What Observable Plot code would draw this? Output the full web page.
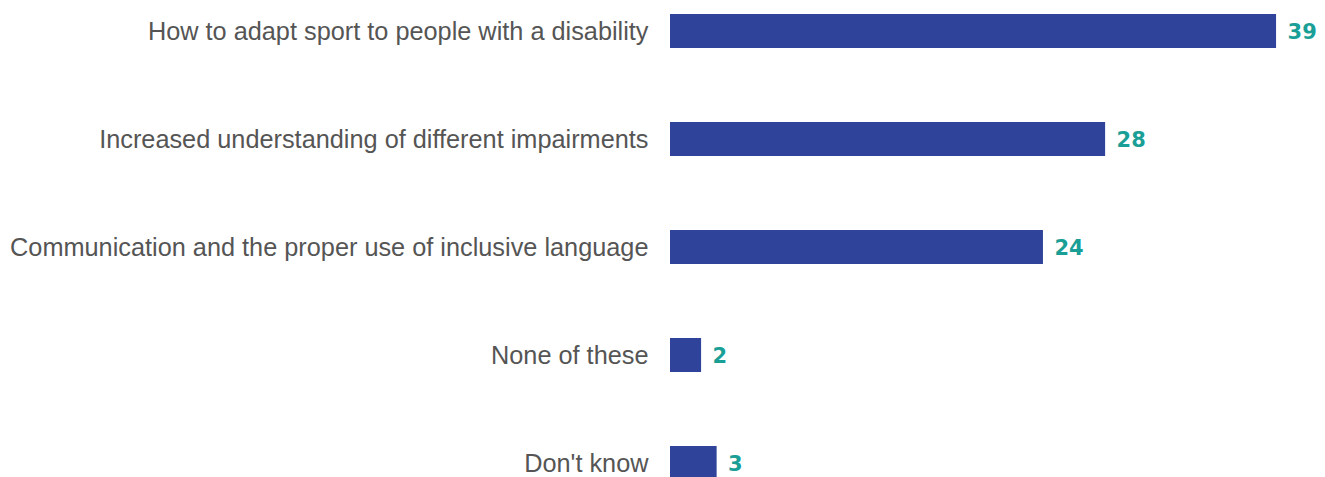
<!DOCTYPE html>
<html><head><meta charset="utf-8">
<script src="https://cdn.jsdelivr.net/npm/d3@7"></script>
<script src="https://cdn.jsdelivr.net/npm/@observablehq/plot@0.6"></script>
<style>body{margin:0;background:#fff;overflow:hidden}</style>
</head><body><div id="chart"></div>
<script>
const categories = [
  "How to adapt sport to people with a disability",
  "Increased understanding of different impairments",
  "Communication and the proper use of inclusive language",
  "None of these",
  "Don't know"
];
const values = [39, 28, 24, 2, 3];
const data = categories.map((c, i) => ({category: c, value: values[i]}));

const chart = Plot.plot({
  width: 1325,
  height: 477,
  marginLeft: 670,
  marginRight: 0,
  marginTop: 0,
  marginBottom: 0,
  style: {fontFamily: "Liberation Sans, Arial, sans-serif", background: "#fff", overflow: "visible"},
  x: {domain: [0, 42.15], axis: null},
  y: {domain: categories, range: [11.5, 481.5], paddingInner: 0.688, paddingOuter: 0, label: null},
  marks: [
    Plot.barX(data, {y: "category", x: "value", fill: "#2e4399"}),
    Plot.text(data, {y: "category", x: "value", text: d => String(d.value), textAnchor: "start", dx: 11, dy: 1, fill: "#1a9f97", fontWeight: "bold", fontSize: 21, fontFamily: "DejaVu Sans"}),
    Plot.axisY({tickSize: 0, tickPadding: 22, fontSize: 25.3, color: "#555", label: null})
  ]
});
document.getElementById("chart").appendChild(chart);
</script></body></html>
